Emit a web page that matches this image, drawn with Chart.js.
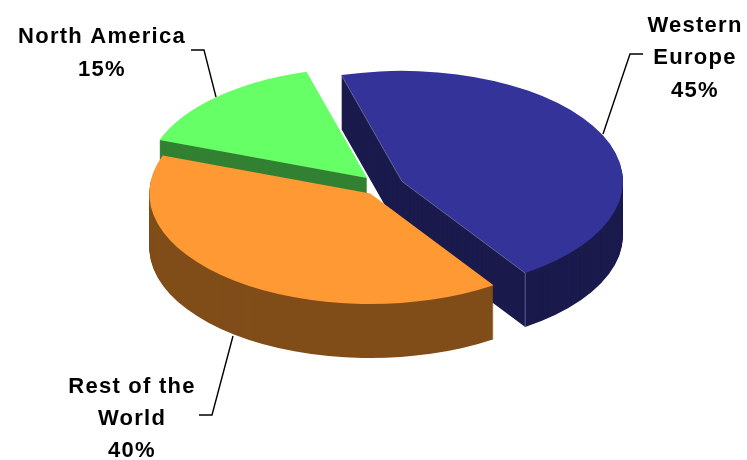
<!DOCTYPE html>
<html>
<head>
<meta charset="utf-8">
<title>Sales by region</title>
<style>
  html, body { margin: 0; padding: 0; background: #fff; }
  canvas { display: block; }
</style>
<script src="https://cdn.jsdelivr.net/npm/chart.js@4/dist/chart.umd.min.js"></script>
</head>
<body>
<canvas id="pie" width="747" height="460"></canvas>
<script>
const regions = ['Western Europe', 'Rest of the World', 'North America'];
const shares = [45, 40, 15];
const topColors = ['#333399', '#ff9933', '#66ff66'];
const wallColors = ['#1a1a4d', '#804d19', '#338033'];
const explode = [22, 19, 22];

// label text lines, one list per slice
const labelLines = [['Western', 'Europe'], ['Rest of the', 'World'], ['North America']];

const centerX = 382;
const centerY = 186;
const squash = 0.5;
const depth = 54;

// moves one slice out along its middle angle, then squashes it flat
function tilt(ctx, arc, i, down) {
    const mid = (arc.startAngle + arc.endAngle) / 2;
    ctx.translate(centerX + Math.cos(mid) * explode[i], centerY + down + Math.sin(mid) * explode[i] * squash);
    ctx.scale(1, squash);
    ctx.translate(-arc.x, -arc.y);
}

const pie3d = {
    id: 'pie3d',
    beforeDatasetsDraw(chart) {
        const ctx = chart.ctx;
        const arcs = chart.getDatasetMeta(0).data;
        // back slices first so orange ends up in front
        [2, 0, 1].forEach(i => {
            const wall = Object.create(arcs[i]);
            wall.options = Object.assign({}, arcs[i].options, {
                backgroundColor: wallColors[i],
                borderColor: wallColors[i]
            });
            for (let d = depth; d > 0; d--) {
                ctx.save();
                tilt(ctx, arcs[i], i, d);
                wall.draw(ctx);
                ctx.restore();
            }
        });
        arcs.forEach((arc, i) => {
            ctx.save();
            tilt(ctx, arc, i, 0);
            arc.draw(ctx);
            ctx.restore();
        });
        drawBlueEdges(chart);
        drawLabels(ctx);
        return false;
    }
};

// the thin light line along the cut faces of the blue slice
function drawBlueEdges(chart) {
    const ctx = chart.ctx;
    const arc = chart.getDatasetMeta(0).data[0];
    const mid = (arc.startAngle + arc.endAngle) / 2;
    const apexX = centerX + Math.cos(mid) * explode[0];
    const apexY = centerY + Math.sin(mid) * explode[0] * squash;
    const edge = a => [
        apexX + Math.cos(a) * arc.outerRadius,
        apexY + Math.sin(a) * arc.outerRadius * squash
    ];
    const start = edge(arc.startAngle);
    const end = edge(arc.endAngle);
    ctx.save();
    ctx.strokeStyle = '#8080a8';
    ctx.lineWidth = 0.7;
    ctx.beginPath();
    ctx.moveTo(start[0], start[1]);
    ctx.lineTo(apexX, apexY);
    ctx.lineTo(end[0], end[1]);
    ctx.lineTo(end[0], end[1] + depth);
    ctx.stroke();
    ctx.restore();
}

function drawLabels(ctx) {
    const spots = [
        { x: 695, ys: [32, 64, 97], line: [[643, 54], [630, 54], [603, 134]] },
        { x: 132, ys: [393, 425, 457], line: [[199, 415], [212, 415], [233, 336]] },
        { x: 102, ys: [43, 76], line: [[191, 50], [204, 50], [216, 97]] }
    ];
    ctx.save();
    ctx.fillStyle = '#000';
    ctx.strokeStyle = '#000';
    ctx.lineWidth = 1.4;
    ctx.font = 'bold 22px "Liberation Sans"';
    ctx.letterSpacing = '1.25px';
    ctx.textAlign = 'center';
    spots.forEach((spot, i) => {
        const lines = labelLines[i].concat(shares[i] + '%');
        lines.forEach((text, k) => ctx.fillText(text, spot.x, spot.ys[k]));
        ctx.beginPath();
        spot.line.forEach((p, k) => k ? ctx.lineTo(p[0], p[1]) : ctx.moveTo(p[0], p[1]));
        ctx.stroke();
    });
    ctx.restore();
}

new Chart(document.getElementById('pie').getContext('2d'), {
    type: 'pie',
    data: {
        labels: regions,
        datasets: [{
            data: shares,
            backgroundColor: topColors,
            borderWidth: 0,
            radius: 221,
            clip: false
        }]
    },
    options: {
        responsive: false,
        animation: false,
        rotation: -15.9,
        layout: { padding: 0 },
        plugins: {
            legend: { display: false },
            tooltip: { enabled: false }
        }
    },
    plugins: [pie3d]
});
</script>
</body>
</html>
